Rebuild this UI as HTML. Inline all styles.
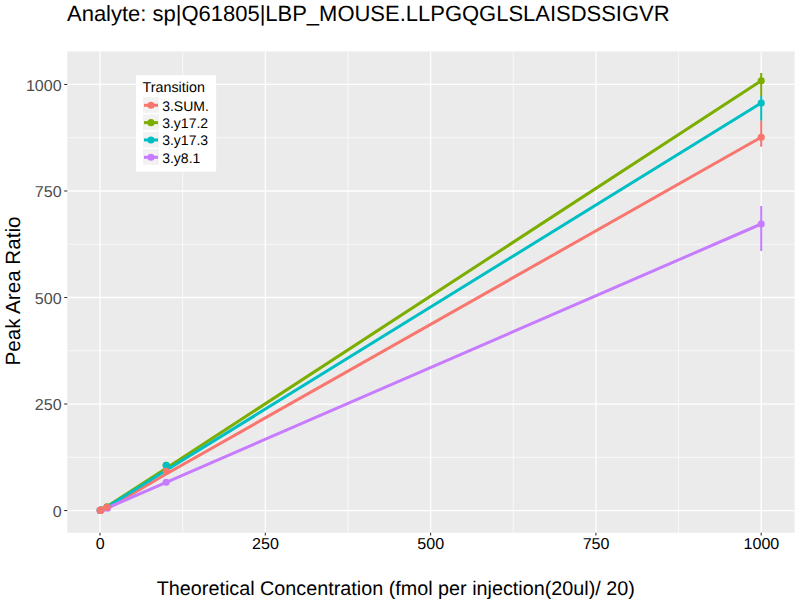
<!DOCTYPE html><html><head><meta charset="utf-8"><style>html,body{margin:0;padding:0;background:#fff;overflow:hidden}svg{display:block}text{font-family:"Liberation Sans",Arial,sans-serif;text-rendering:geometricPrecision}</style></head><body>
<svg width="800" height="600" viewBox="0 0 800 600">
<rect x="0" y="0" width="800" height="600" fill="#fff"/>
<text x="67" y="20.8" font-size="22" fill="#000" textLength="602.6" lengthAdjust="spacingAndGlyphs">Analyte: sp|Q61805|LBP_MOUSE.LLPGQGLSLAISDSSIGVR</text>
<rect x="67.3" y="51.4" width="727.30" height="481.30" fill="#EBEBEB"/>
<clipPath id="pc"><rect x="67.3" y="51.4" width="727.30" height="481.30"/></clipPath>
<g clip-path="url(#pc)">
<line x1="182.65" y1="51.4" x2="182.65" y2="532.7" stroke="#fff" stroke-width="0.7"/>
<line x1="347.95" y1="51.4" x2="347.95" y2="532.7" stroke="#fff" stroke-width="0.7"/>
<line x1="513.25" y1="51.4" x2="513.25" y2="532.7" stroke="#fff" stroke-width="0.7"/>
<line x1="678.55" y1="51.4" x2="678.55" y2="532.7" stroke="#fff" stroke-width="0.7"/>
<line x1="67.3" y1="457.29" x2="794.6" y2="457.29" stroke="#fff" stroke-width="0.7"/>
<line x1="67.3" y1="350.76" x2="794.6" y2="350.76" stroke="#fff" stroke-width="0.7"/>
<line x1="67.3" y1="244.24" x2="794.6" y2="244.24" stroke="#fff" stroke-width="0.7"/>
<line x1="67.3" y1="137.71" x2="794.6" y2="137.71" stroke="#fff" stroke-width="0.7"/>
<line x1="100.00" y1="51.4" x2="100.00" y2="532.7" stroke="#fff" stroke-width="1.3"/>
<line x1="265.30" y1="51.4" x2="265.30" y2="532.7" stroke="#fff" stroke-width="1.3"/>
<line x1="430.60" y1="51.4" x2="430.60" y2="532.7" stroke="#fff" stroke-width="1.3"/>
<line x1="595.90" y1="51.4" x2="595.90" y2="532.7" stroke="#fff" stroke-width="1.3"/>
<line x1="761.20" y1="51.4" x2="761.20" y2="532.7" stroke="#fff" stroke-width="1.3"/>
<line x1="67.3" y1="510.55" x2="794.6" y2="510.55" stroke="#fff" stroke-width="1.3"/>
<line x1="67.3" y1="404.03" x2="794.6" y2="404.03" stroke="#fff" stroke-width="1.3"/>
<line x1="67.3" y1="297.50" x2="794.6" y2="297.50" stroke="#fff" stroke-width="1.3"/>
<line x1="67.3" y1="190.98" x2="794.6" y2="190.98" stroke="#fff" stroke-width="1.3"/>
<line x1="67.3" y1="84.45" x2="794.6" y2="84.45" stroke="#fff" stroke-width="1.3"/>
<line x1="761.2" y1="72.9" x2="761.2" y2="96.0" stroke="#7CAE00" stroke-width="2.0"/>
<line x1="761.2" y1="96.0" x2="761.2" y2="120.7" stroke="#00BFC4" stroke-width="2.0"/>
<line x1="761.2" y1="120.7" x2="761.2" y2="146.7" stroke="#F8766D" stroke-width="2.0"/>
<line x1="761.2" y1="206.0" x2="761.2" y2="251.0" stroke="#C77CFF" stroke-width="2.0"/>
<polyline points="100.20,510.40 101.00,510.00 107.00,508.60 166.20,474.00 761.20,137.30" fill="none" stroke="#F8766D" stroke-width="3.0" stroke-linejoin="round" stroke-linecap="butt"/>
<polyline points="100.20,510.40 101.00,510.00 107.00,506.60 166.20,468.30 761.20,80.70" fill="none" stroke="#7CAE00" stroke-width="3.0" stroke-linejoin="round" stroke-linecap="butt"/>
<polyline points="100.20,510.40 101.00,510.00 107.00,507.00 166.20,470.30 761.20,103.00" fill="none" stroke="#00BFC4" stroke-width="3.0" stroke-linejoin="round" stroke-linecap="butt"/>
<polyline points="100.20,510.40 101.00,510.20 107.00,508.00 166.20,482.30 761.20,224.00" fill="none" stroke="#C77CFF" stroke-width="3.0" stroke-linejoin="round" stroke-linecap="butt"/>
<circle cx="100.20" cy="510.40" r="3.55" fill="#7CAE00"/>
<circle cx="101.00" cy="510.00" r="3.55" fill="#7CAE00"/>
<circle cx="107.00" cy="506.70" r="3.55" fill="#7CAE00"/>
<circle cx="166.20" cy="465.30" r="3.55" fill="#7CAE00"/>
<circle cx="761.20" cy="80.70" r="3.55" fill="#7CAE00"/>
<circle cx="100.20" cy="510.40" r="3.55" fill="#00BFC4"/>
<circle cx="101.00" cy="510.00" r="3.55" fill="#00BFC4"/>
<circle cx="107.00" cy="507.20" r="3.55" fill="#00BFC4"/>
<circle cx="166.20" cy="465.20" r="3.55" fill="#00BFC4"/>
<circle cx="761.20" cy="103.00" r="3.55" fill="#00BFC4"/>
<circle cx="100.20" cy="510.40" r="3.55" fill="#C77CFF"/>
<circle cx="101.00" cy="510.20" r="3.55" fill="#C77CFF"/>
<circle cx="107.50" cy="508.30" r="3.55" fill="#C77CFF"/>
<circle cx="166.20" cy="482.30" r="3.55" fill="#C77CFF"/>
<circle cx="761.20" cy="224.00" r="3.55" fill="#C77CFF"/>
<circle cx="100.20" cy="510.40" r="3.55" fill="#F8766D"/>
<circle cx="101.00" cy="510.00" r="3.55" fill="#F8766D"/>
<circle cx="107.00" cy="507.20" r="3.55" fill="#F8766D"/>
<circle cx="166.20" cy="471.20" r="3.55" fill="#F8766D"/>
<circle cx="761.20" cy="137.30" r="3.55" fill="#F8766D"/>
</g>
<line x1="64.2" y1="510.55" x2="67.3" y2="510.55" stroke="#333" stroke-width="1.07"/>
<line x1="100.00" y1="532.7" x2="100.00" y2="535.5" stroke="#333" stroke-width="1.07"/>
<line x1="64.2" y1="404.03" x2="67.3" y2="404.03" stroke="#333" stroke-width="1.07"/>
<line x1="265.30" y1="532.7" x2="265.30" y2="535.5" stroke="#333" stroke-width="1.07"/>
<line x1="64.2" y1="297.50" x2="67.3" y2="297.50" stroke="#333" stroke-width="1.07"/>
<line x1="430.60" y1="532.7" x2="430.60" y2="535.5" stroke="#333" stroke-width="1.07"/>
<line x1="64.2" y1="190.98" x2="67.3" y2="190.98" stroke="#333" stroke-width="1.07"/>
<line x1="595.90" y1="532.7" x2="595.90" y2="535.5" stroke="#333" stroke-width="1.07"/>
<line x1="64.2" y1="84.45" x2="67.3" y2="84.45" stroke="#333" stroke-width="1.07"/>
<line x1="761.20" y1="532.7" x2="761.20" y2="535.5" stroke="#333" stroke-width="1.07"/>
<text x="61.7" y="516.70" font-size="15.8" fill="#4D4D4D" text-anchor="end" textLength="8.95" lengthAdjust="spacingAndGlyphs">0</text>
<text x="61.7" y="409.80" font-size="15.8" fill="#4D4D4D" text-anchor="end" textLength="26.85" lengthAdjust="spacingAndGlyphs">250</text>
<text x="61.7" y="303.80" font-size="15.8" fill="#4D4D4D" text-anchor="end" textLength="26.85" lengthAdjust="spacingAndGlyphs">500</text>
<text x="61.7" y="196.60" font-size="15.8" fill="#4D4D4D" text-anchor="end" textLength="26.85" lengthAdjust="spacingAndGlyphs">750</text>
<text x="61.7" y="90.80" font-size="15.8" fill="#4D4D4D" text-anchor="end" textLength="35.80" lengthAdjust="spacingAndGlyphs">1000</text>
<text x="95.73" y="548.8" font-size="15.8" fill="#000" textLength="8.95" lengthAdjust="spacingAndGlyphs">0</text>
<text x="252.07" y="548.8" font-size="15.8" fill="#000" textLength="26.85" lengthAdjust="spacingAndGlyphs">250</text>
<text x="417.38" y="548.8" font-size="15.8" fill="#000" textLength="26.85" lengthAdjust="spacingAndGlyphs">500</text>
<text x="582.68" y="548.8" font-size="15.8" fill="#000" textLength="26.85" lengthAdjust="spacingAndGlyphs">750</text>
<text x="743.50" y="548.8" font-size="15.8" fill="#000" textLength="35.80" lengthAdjust="spacingAndGlyphs">1000</text>
<text x="156.8" y="594.7" font-size="19.8" fill="#000" textLength="478" lengthAdjust="spacingAndGlyphs">Theoretical Concentration (fmol per injection(20ul)/ 20)</text>
<text transform="translate(20,365.5) rotate(-90)" x="0" y="0" font-size="20.6" fill="#000" textLength="149" lengthAdjust="spacingAndGlyphs">Peak Area Ratio</text>
<rect x="136" y="75.2" width="80.1" height="96.5" fill="#fff"/>
<text x="142.6" y="91.8" font-size="14.3" fill="#000">Transition</text>
<rect x="143" y="97.10" width="16" height="15.7" fill="#F2F2F2"/>
<line x1="144" y1="105.30" x2="158" y2="105.30" stroke="#F8766D" stroke-width="3.0"/>
<circle cx="151" cy="105.30" r="3.55" fill="#F8766D"/>
<text x="162.2" y="110.70" font-size="14" fill="#000">3.SUM.</text>
<rect x="143" y="114.43" width="16" height="15.7" fill="#F2F2F2"/>
<line x1="144" y1="122.63" x2="158" y2="122.63" stroke="#7CAE00" stroke-width="3.0"/>
<circle cx="151" cy="122.63" r="3.55" fill="#7CAE00"/>
<text x="162.2" y="128.03" font-size="14" fill="#000">3.y17.2</text>
<rect x="143" y="131.76" width="16" height="15.7" fill="#F2F2F2"/>
<line x1="144" y1="139.96" x2="158" y2="139.96" stroke="#00BFC4" stroke-width="3.0"/>
<circle cx="151" cy="139.96" r="3.55" fill="#00BFC4"/>
<text x="162.2" y="145.36" font-size="14" fill="#000">3.y17.3</text>
<rect x="143" y="149.09" width="16" height="15.7" fill="#F2F2F2"/>
<line x1="144" y1="157.29" x2="158" y2="157.29" stroke="#C77CFF" stroke-width="3.0"/>
<circle cx="151" cy="157.29" r="3.55" fill="#C77CFF"/>
<text x="162.2" y="162.69" font-size="14" fill="#000">3.y8.1</text>
</svg></body></html>
